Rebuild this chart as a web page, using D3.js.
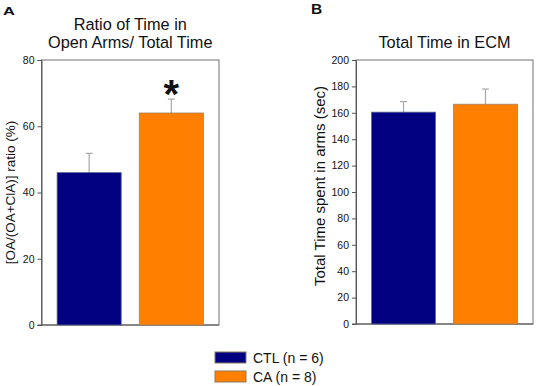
<!DOCTYPE html>
<html><head><meta charset="utf-8">
<script src="https://cdn.jsdelivr.net/npm/d3@7"></script>
<style>body{margin:0;background:#fff}svg{display:block;font-family:Arial,"Liberation Sans",sans-serif}</style>
</head><body>
<svg id="c" width="536" height="386"></svg>
<script>
const groups = ["CTL (n = 6)", "CA (n = 8)"];
const colors = ["#000080", "#ff8000"];
const ratioValues = [46.0, 64.0];
const ratioErrors = [5.8, 4.2];
const ratioTicks = [0, 20, 40, 60, 80];
const timeValues = [160.5, 166.5];
const timeErrors = [8, 11.5];
const timeTicks = [0, 20, 40, 60, 80, 100, 120, 140, 160, 180, 200];

const svg = d3.select("#c");

function panel(o) {
  const g = svg.append("g");
  const y = d3.scaleLinear().domain([0, o.max]).range([o.bottom, o.top]);
  const x = d3.scaleBand().domain(groups).range([o.left, o.right]).paddingInner(0.22).paddingOuter(0.19);
  g.append("rect").attr("x", o.left).attr("y", o.top).attr("width", o.right - o.left).attr("height", o.bottom - o.top)
    .attr("fill", "none").attr("stroke", "#707070").attr("stroke-width", 1);
  const ax = g.append("g").attr("transform", `translate(${o.left},0)`)
    .call(d3.axisLeft(y).tickValues(o.ticks).tickSize(4).tickPadding(3).tickFormat(d3.format("d")));
  ax.select(".domain").attr("stroke", "#555");
  ax.selectAll(".tick line").attr("stroke", "#555");
  ax.selectAll(".tick text").attr("font-size", 10.5).attr("fill", "#111").attr("font-family", "Arial, 'Liberation Sans', sans-serif");
  g.append("line").attr("x1", o.left - 4).attr("x2", o.right).attr("y1", o.bottom).attr("y2", o.bottom).attr("stroke", "#555");
  groups.forEach((k, i) => {
    const bx = x(k), bw = x.bandwidth(), cx = bx + bw / 2;
    const top = y(o.values[i] + o.errors[i]);
    g.append("line").attr("x1", cx).attr("x2", cx).attr("y1", y(o.values[i])).attr("y2", top)
      .attr("stroke", "#a8a8a8").attr("stroke-width", 1.2);
    g.append("line").attr("x1", cx - 3.5).attr("x2", cx + 3.5).attr("y1", top).attr("y2", top)
      .attr("stroke", "#a8a8a8").attr("stroke-width", 1.2);
    g.append("rect").attr("x", bx).attr("y", y(o.values[i])).attr("width", bw).attr("height", y(0) - y(o.values[i]))
      .attr("fill", colors[i]).attr("stroke", i === 0 ? "#5a6a90" : "#a08060").attr("stroke-width", 0.8);
  });
  o.title.forEach((t, j) => {
    g.append("text").attr("x", (o.left + o.right) / 2).attr("y", o.titleY + j * 18).attr("text-anchor", "middle")
      .attr("font-size", 16.3).attr("fill", "#111").text(t);
  });
  g.append("text").attr("transform", `translate(${o.labelX},${o.labelY}) rotate(-90)`)
    .attr("text-anchor", "middle").attr("font-size", o.labelSize).attr("fill", "#111").text(o.ylabel);
  return {x, y, g};
}

const A = panel({left: 41.5, right: 219, top: 60, bottom: 325, max: 80, ticks: ratioTicks,
  values: ratioValues, errors: ratioErrors, title: ["Ratio of Time in", "Open Arms/ Total Time"], titleY: 30,
  ylabel: "[OA/(OA+ClA)] ratio (%)", labelX: 15, labelY: 192.5, labelSize: 13.5});
A.g.append("text").attr("x", A.x(groups[1]) + A.x.bandwidth() / 2).attr("y", A.y(ratioValues[1] + ratioErrors[1]) + 9)
  .attr("text-anchor", "middle").attr("font-size", 40).attr("font-weight", "bold").attr("fill", "#111").text("*");

panel({left: 356, right: 533, top: 60, bottom: 324, max: 200, ticks: timeTicks,
  values: timeValues, errors: timeErrors, title: ["Total Time in ECM"], titleY: 48,
  ylabel: "Total Time spent in arms (sec)", labelX: 325, labelY: 186, labelSize: 15});

// panel letters
svg.append("text").attr("transform", "translate(3,15) scale(1,0.66)").attr("font-size", 16.5)
  .attr("font-weight", "bold").attr("fill", "#111").text("A");
svg.append("text").attr("x", 311).attr("y", 14).attr("font-size", 15.5)
  .attr("font-weight", "bold").attr("fill", "#111").text("B");

// legend
const lg = svg.append("g");
groups.forEach((k, i) => {
  const yy = 352 + i * 19;
  lg.append("rect").attr("x", 215).attr("y", yy).attr("width", 31).attr("height", 11)
    .attr("fill", colors[i]).attr("stroke", "#8a7a60").attr("stroke-width", 1);
  lg.append("text").attr("x", 253).attr("y", yy + 10.5).attr("font-size", 14).attr("fill", "#111").text(k);
});
</script>
</body></html>
